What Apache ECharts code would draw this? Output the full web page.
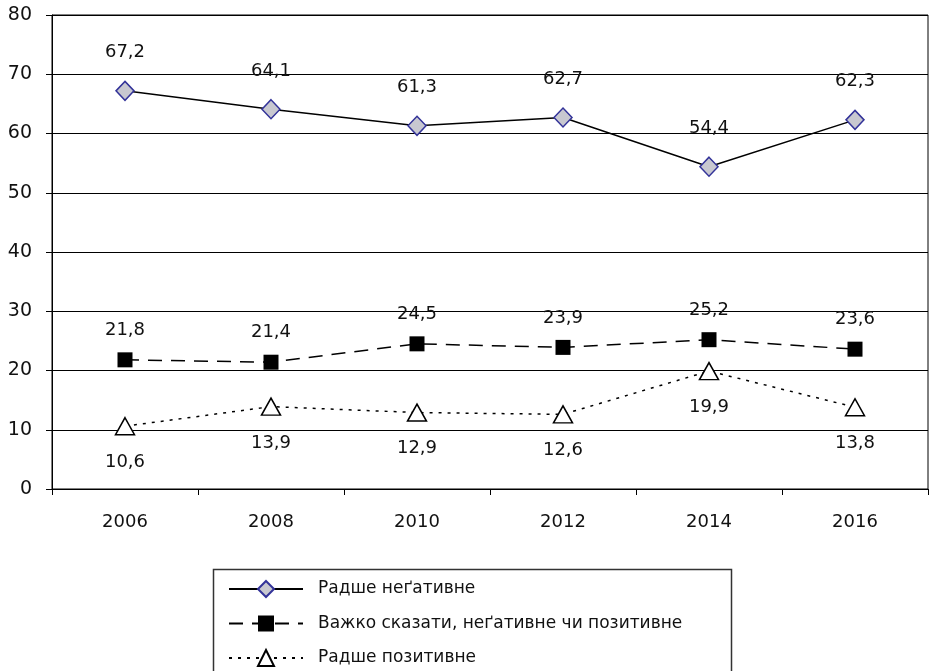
<!DOCTYPE html>
<html><head><meta charset="utf-8">
<script src="https://cdn.jsdelivr.net/npm/echarts@6/dist/echarts.min.js"></script>
<style>html,body{margin:0;padding:0;background:#fff}#c{width:930px;height:671px}</style>
</head><body><div id="c"></div>
<script>
const years = ['2006','2008','2010','2012','2014','2016'];
const negative = [67.2, 64.1, 61.3, 62.7, 54.4, 62.3];
const hardToSay = [21.8, 21.4, 24.5, 23.9, 25.2, 23.6];
const positive = [10.6, 13.9, 12.9, 12.6, 19.9, 13.8];
const names = ['Радше неґативне', 'Важко сказати, неґативне чи позитивне', 'Радше позитивне'];
const FONT = 'DejaVu Sans';
const fmt = p => String(p.value).replace('.', ',');
const chart = echarts.init(document.getElementById('c'), null, {renderer:'canvas'});
chart.setOption({
  animation:false,
  textStyle:{fontFamily:FONT},
  grid:{left:52,right:2,top:15,bottom:182,show:true,borderColor:'#000',borderWidth:1},
  xAxis:{type:'category',data:years,boundaryGap:true,
    axisLine:{lineStyle:{color:'#000',width:1}},
    axisTick:{show:true,length:6,lineStyle:{color:'#000'}},
    axisLabel:{color:'#111',fontSize:18,margin:24,fontFamily:FONT}},
  yAxis:{type:'value',min:0,max:80,interval:10,
    axisLine:{show:true,lineStyle:{color:'#000',width:1}},
    axisTick:{show:true,length:6,lineStyle:{color:'#000'}},
    splitLine:{lineStyle:{color:'#000',width:1}},
    axisLabel:{color:'#111',fontSize:19,margin:20,fontFamily:FONT}},
  legend:{orient:'vertical',left:228,top:580,padding:0,itemWidth:74,itemHeight:20,itemGap:17,
    textStyle:{fontSize:17,color:'#111',fontFamily:FONT,padding:[0,0,0,10]},
    data:names},
  graphic:[{type:'rect',left:211,top:567,shape:{width:518,height:120},
    style:{fill:'none',stroke:'#333',lineWidth:1.5},silent:true}],
  series:[
    {name:names[0],type:'line',data:negative,symbol:'diamond',symbolSize:[18,19],
      lineStyle:{color:'#000',width:1.5},itemStyle:{color:'#c8c8d0',borderColor:'#333399',borderWidth:1.5},
      label:{show:true,position:'top',distance:19,fontSize:18,color:'#111',formatter:fmt,fontFamily:FONT}},
    {name:names[1],type:'line',data:hardToSay,symbol:'rect',symbolSize:15,
      lineStyle:{color:'#000',width:1.5,type:[14,9]},itemStyle:{color:'#000',borderColor:'#000',borderWidth:0},
      label:{show:true,position:'top',distance:13,fontSize:18,color:'#111',formatter:fmt,fontFamily:FONT}},
    {name:names[2],type:'line',data:positive,symbol:'triangle',symbolSize:[19,17],
      lineStyle:{color:'#000',width:1.5,type:[3,6]},itemStyle:{color:'#fff',borderColor:'#000',borderWidth:1.5},
      label:{show:true,position:'bottom',distance:18,fontSize:18,color:'#111',formatter:fmt,fontFamily:FONT}}
  ]
});
</script></body></html>
